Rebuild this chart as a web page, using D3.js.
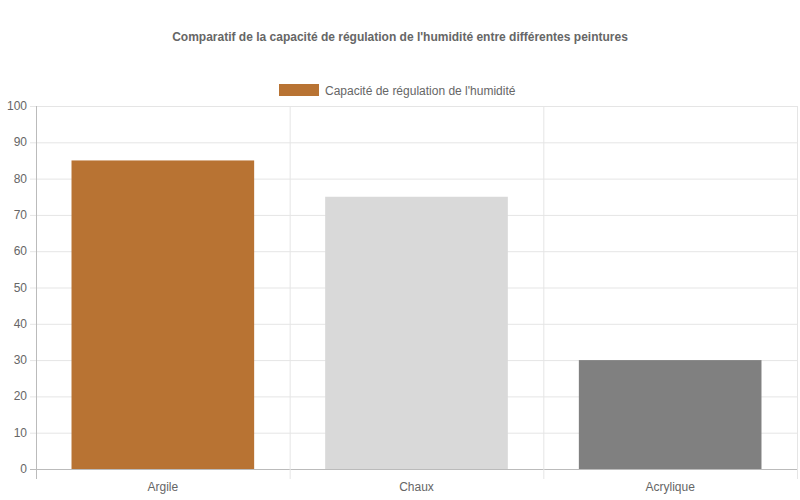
<!DOCTYPE html>
<html><head><meta charset="utf-8">
<script src="https://cdn.jsdelivr.net/npm/d3@7"></script>
<style>body{margin:0;background:#fff}text{font-family:"Liberation Sans",Arial,sans-serif}</style>
</head><body><svg id="c" width="800" height="500"></svg>
<script>
const categories=["Argile","Chaux","Acrylique"];
const values=[85,75,30];
const colors=["#b87333","#d9d9d9","#808080"];
const yTicks=[0,10,20,30,40,50,60,70,80,90,100];
const title="Comparatif de la capacité de régulation de l'humidité entre différentes peintures";
const legendLabel="Capacité de régulation de l'humidité";

const svg=d3.select("#c");
const L=36,R=797,T=106,B=469;
const x=d3.scaleBand().domain(categories).range([L,R]);
const y=d3.scaleLinear().domain([0,100]).range([B,T]);
const g=svg.append("g");
// horizontal grid
g.selectAll(".hg").data(yTicks).enter().append("line")
 .attr("x1",L-6).attr("x2",R).attr("y1",d=>y(d)+0.5).attr("y2",d=>y(d)+0.5)
 .attr("stroke",d=>d===0?"#bbb":"#e5e5e5");
// vertical grid
const vx=categories.map(c=>x(c)).concat([R]);
g.selectAll(".vg").data(vx).enter().append("line")
 .attr("x1",d=>d+0.5).attr("x2",d=>d+0.5).attr("y1",T).attr("y2",B+10)
 .attr("stroke",(d,i)=>i===0?"#bbb":"#e5e5e5");
// y labels
g.selectAll(".yl").data(yTicks).enter().append("text")
 .attr("x",L-9).attr("y",d=>y(d)+4).attr("text-anchor","end")
 .attr("font-size",12).attr("fill","#666").text(d=>d);
// bars
const bw=x.bandwidth()*0.72;
g.selectAll(".bar").data(values).enter().append("rect")
 .attr("x",(d,i)=>x(categories[i])+(x.bandwidth()-bw)/2).attr("width",bw)
 .attr("y",d=>y(d)).attr("height",d=>B-y(d)).attr("fill",(d,i)=>colors[i]);
// x labels
g.selectAll(".xl").data(categories).enter().append("text")
 .attr("x",d=>x(d)+x.bandwidth()/2).attr("y",491).attr("text-anchor","middle")
 .attr("font-size",12).attr("fill","#666").text(d=>d);
// title
svg.append("text").attr("x",400).attr("y",41).attr("text-anchor","middle")
 .attr("font-size",12).attr("font-weight","bold").attr("fill","#666").text(title);
// legend
svg.append("rect").attr("x",279).attr("y",84).attr("width",40).attr("height",12).attr("fill",colors[0]);
svg.append("text").attr("x",325).attr("y",94.5).attr("font-size",12).attr("fill","#666").text(legendLabel);
</script></body></html>
